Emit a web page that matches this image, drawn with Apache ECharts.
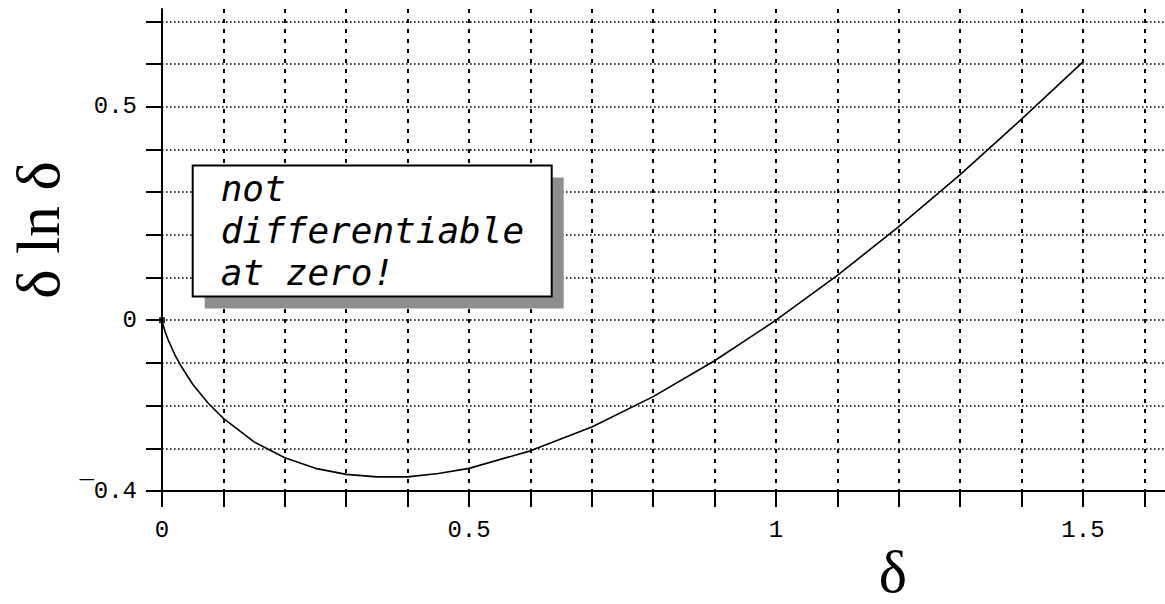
<!DOCTYPE html>
<html><head><meta charset="utf-8">
<script src="https://cdn.jsdelivr.net/npm/echarts@6/dist/echarts.min.js"></script>
<style>html,body{margin:0;padding:0;background:#fff}#c{width:1165px;height:604px}</style>
</head><body><div id="c"></div>
<script>
// data
const xValues = [0, 0.002, 0.005, 0.01, 0.02, 0.03, 0.05, 0.075, 0.1, 0.15, 0.2, 0.25, 0.3, 0.35, 0.4, 0.45, 0.5, 0.6, 0.7, 0.8, 0.9, 1.0, 1.1, 1.2, 1.3, 1.4, 1.5];
const yValues = [0, -0.012, -0.027, -0.046, -0.078, -0.105, -0.15, -0.194, -0.23, -0.285, -0.322, -0.347, -0.361, -0.367, -0.367, -0.359, -0.347, -0.306, -0.25, -0.179, -0.095, 0, 0.105, 0.219, 0.341, 0.471, 0.605];
const originPoint = [[0, 0]];
const xTicks = [0, 0.1, 0.2, 0.3, 0.4, 0.5, 0.6, 0.7, 0.8, 0.9, 1, 1.1, 1.2, 1.3, 1.4, 1.5, 1.6];
const yTicks = [-0.4, -0.3, -0.2, -0.1, 0, 0.1, 0.2, 0.3, 0.4, 0.5, 0.6, 0.7];
const xLabels = [0, 0.5, 1, 1.5];
const yLabels = [-0.4, 0, 0.5];
const xName = 'δ';
const yName = 'δ ln δ';
const noteLines = ['not', 'differentiable', 'at zero!'];
const noteAnchor = [0.05, 0.362];

const chart = echarts.init(document.getElementById('c'), null, {renderer: 'svg'});
const fmt = v => (v < 0 ? '\u00AF' + Math.abs(v) : String(v));
const tickFont = {fontFamily: 'Liberation Mono', fontSize: 24, color: '#000'};

chart.setOption({
  animation: false,
  backgroundColor: '#fff',
  grid: {left: 162, right: 0, top: 9, bottom: 113, outerBoundsMode: 'none', containLabel: false},
  xAxis: {
    type: 'value', min: 0, max: 1.6336,
    axisLine: {show: true, onZero: false, lineStyle: {color: '#000', width: 2}},
    axisTick: {show: true, length: 16, lineStyle: {color: '#000', width: 2}, customValues: xTicks},
    axisLabel: Object.assign({margin: 27, customValues: xLabels, formatter: fmt}, tickFont),
    splitLine: {show: true, lineStyle: {color: '#000', width: 2, type: [4, 6]}}
  },
  yAxis: {
    type: 'value', min: -0.4, max: 0.7288,
    axisLine: {show: true, onZero: false, lineStyle: {color: '#000', width: 2}},
    axisTick: {show: true, length: 16, lineStyle: {color: '#000', width: 2}, customValues: yTicks},
    axisLabel: Object.assign({margin: 25, customValues: yLabels, formatter: fmt}, tickFont),
    splitLine: {show: true, lineStyle: {color: '#000', width: 1.6, type: [1.6, 2.4]}}
  },
  series: [
    {type: 'line', data: xValues.map((x, i) => [x, yValues[i]]), showSymbol: false,
     lineStyle: {color: '#000', width: 1.6}, z: 5},
    {type: 'scatter', data: originPoint, symbol: 'rect', symbolSize: 6,
     itemStyle: {color: '#000'}, z: 6}
  ]
});

const p = chart.convertToPixel({gridIndex: 0}, noteAnchor);
const boxW = 359, boxH = 131;
chart.setOption({
  graphic: [
    {type: 'text', x: 38, y: 230, rotation: Math.PI / 2, z: 100,
     style: {text: yName, fontFamily: 'Liberation Serif', fontSize: 62, fill: '#000', align: 'center', verticalAlign: 'middle'}},
    {type: 'text', x: 893, y: 572, z: 100,
     style: {text: xName, fontFamily: 'Liberation Serif', fontSize: 60, fill: '#000', align: 'center', verticalAlign: 'middle'}},
    {type: 'group', x: p[0], y: p[1], z: 100, children: [
      {type: 'rect', shape: {x: 12, y: 12, width: boxW, height: boxH}, style: {fill: '#8e8e8e'}, z: 100},
      {type: 'rect', shape: {x: 0, y: 0, width: boxW, height: boxH}, style: {fill: '#fff', stroke: '#000', lineWidth: 2}, z: 101},
      {type: 'text', x: 28, y: 2, z: 102,
       style: {text: noteLines.join('\n'), fontFamily: 'DejaVu Sans Mono', fontStyle: 'italic', fontSize: 36, lineHeight: 42, fill: '#000', align: 'left', verticalAlign: 'top'}}
    ]}
  ]
});
</script></body></html>
